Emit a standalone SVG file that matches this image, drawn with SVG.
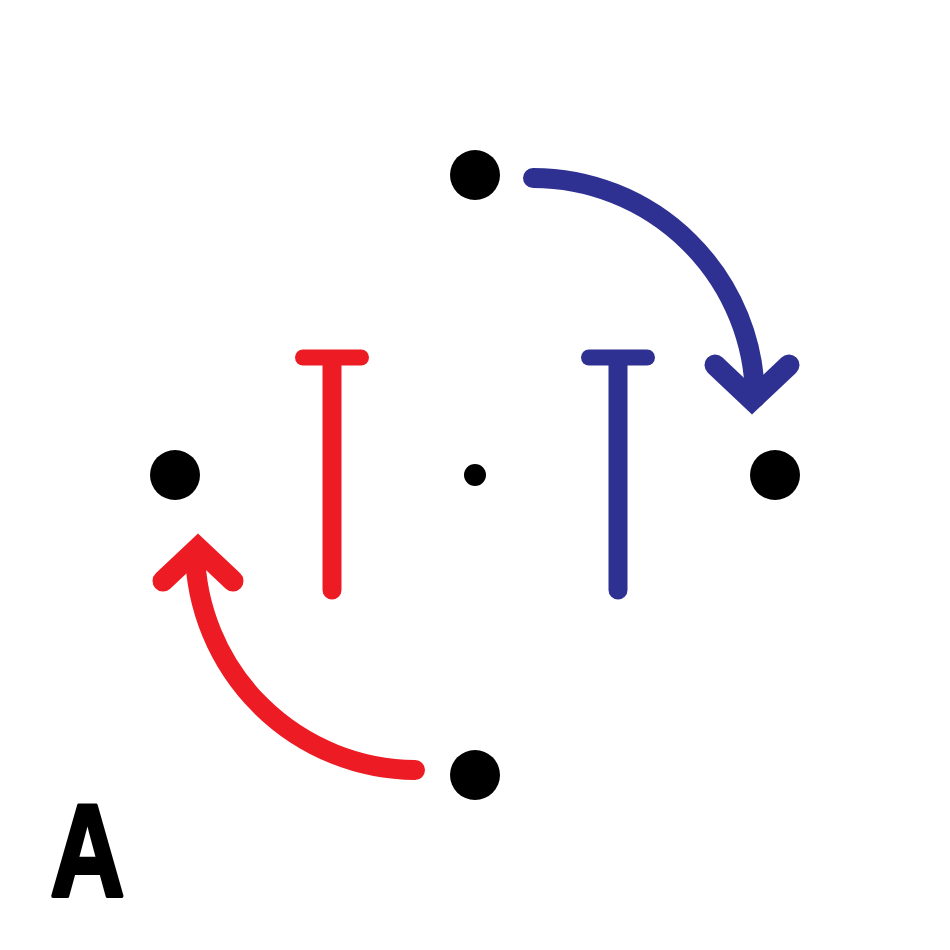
<svg xmlns="http://www.w3.org/2000/svg" width="950" height="950" viewBox="0 0 950 950">
<style>
.dot{fill:#000}
.red{stroke:#ed1c24;fill:none}
.blue{stroke:#2e3192;fill:none}
.t{stroke-width:19;stroke-linecap:round}
.bar{stroke-width:16;stroke-linecap:round}
.arc{stroke-width:20;stroke-linecap:round}
.head{stroke-width:21;stroke-linejoin:miter;stroke-linecap:round}
.lbl{font-family:"Liberation Sans",Arial,sans-serif;font-weight:bold;font-size:132px;fill:#000;stroke:#000;stroke-width:4;stroke-linejoin:round}
</style>
<rect width="950" height="950" fill="#fff"/>
<g id="node-top"><circle class="dot" cx="475" cy="175" r="25"/></g>
<g id="node-left"><circle class="dot" cx="175" cy="475" r="25"/></g>
<g id="node-right"><circle class="dot" cx="775" cy="475" r="25"/></g>
<g id="node-bottom"><circle class="dot" cx="475" cy="775" r="25"/></g>
<g id="node-center"><circle class="dot" cx="475" cy="475" r="11"/></g>
<g id="red-T">
<line class="red t" x1="332" y1="362" x2="332" y2="590"/>
<line class="red bar" x1="303" y1="357.5" x2="361" y2="357.5"/>
</g>
<g id="blue-T">
<line class="blue t" x1="618" y1="362" x2="618" y2="590"/>
<line class="blue bar" x1="589" y1="357.5" x2="647" y2="357.5"/>
</g>
<g id="connectors">
<path class="blue arc" d="M533,178 A222,222 0 0 1 755,398"/>
<path class="blue head" d="M715,365 L752,400 L789,365"/>
<path class="red arc" d="M415,770 A222,222 0 0 1 195,552"/>
<path class="red head" d="M163,581 L198,548 L233,581"/>
</g>
<g id="label-A">
<text class="lbl" transform="scale(0.78,1)" x="112" y="896" text-anchor="middle">A</text>
</g>
</svg>
